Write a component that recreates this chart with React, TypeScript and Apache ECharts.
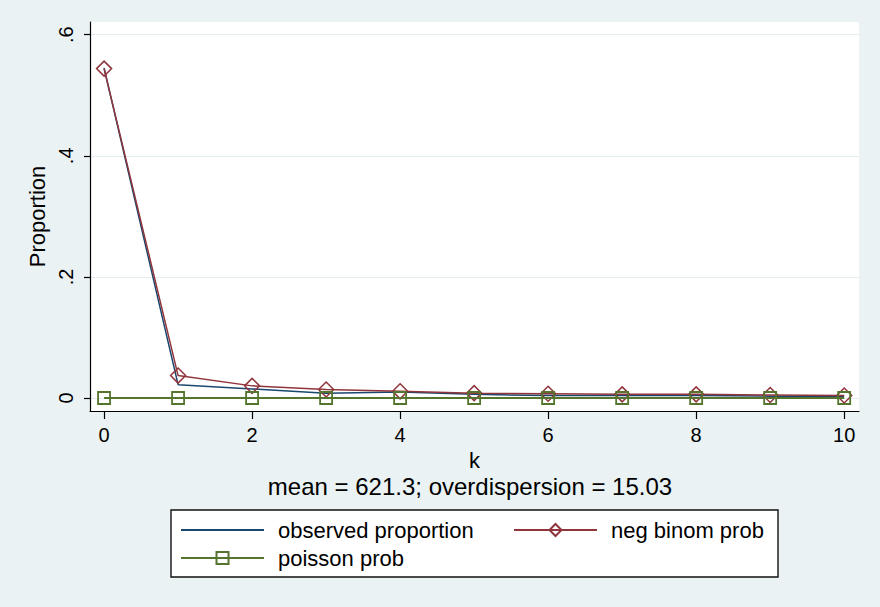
import React, { useEffect, useRef } from 'react';
import * as echarts from 'echarts';

// Counts k = 0..10 and the proportions for each fitted distribution
const kValues = [0, 1, 2, 3, 4, 5, 6, 7, 8, 9, 10];
const observedProportion = [0.545, 0.022, 0.015, 0.008, 0.01, 0.006, 0.004, 0.004, 0.004, 0.003, 0.003];
const negBinomProb = [0.544, 0.037, 0.02, 0.014, 0.011, 0.008, 0.007, 0.006, 0.006, 0.005, 0.004];
const poissonProb = [0, 0, 0, 0, 0, 0, 0, 0, 0, 0, 0];

const xTickValues = [0, 2, 4, 6, 8, 10];
const yTickValues = [0, 0.2, 0.4, 0.6];
const yTickLabels = ['0', '.2', '.4', '.6'];

const seriesNames = ['observed proportion', 'neg binom prob', 'poisson prob'];
const noteText = 'mean = 621.3; overdispersion = 15.03';

const NAVY = '#1a476f';
const MAROON = '#90353b';
const FOREST = '#55752f';
const FONT = "'Liberation Sans', Arial, Helvetica, sans-serif";

const pairs = (vals: number[]) => kValues.map((k, i) => [k, vals[i]]);

export default function App() {
  const ref = useRef<HTMLDivElement>(null);

  useEffect(() => {
    if (!ref.current) return;
    const chart = echarts.init(ref.current, undefined, { renderer: 'svg' });

    const legendText = { color: '#000', fontSize: 22, fontFamily: FONT, padding: [0, 0, 0, 9] };
    const legendBase = {
      orient: 'horizontal' as const,
      itemWidth: 83,
      itemHeight: 15,
      padding: 0,
      selectedMode: false,
      textStyle: legendText,
    };

    chart.setOption({
      animation: false,
      backgroundColor: '#eaf2f3',
      textStyle: { fontFamily: FONT },
      grid: {
        left: 90,
        right: 21,
        top: 22,
        bottom: 196,
        show: true,
        backgroundColor: '#ffffff',
        borderWidth: 0,
      },
      xAxis: {
        type: 'value',
        min: -0.19,
        max: 10.2,
        name: 'k',
        nameLocation: 'middle',
        nameGap: 23,
        nameTextStyle: { color: '#000', fontSize: 22, fontFamily: FONT },
        axisLine: { show: true, onZero: false, lineStyle: { color: '#000', width: 1.2 } },
        axisTick: { show: true, length: 8, customValues: xTickValues, lineStyle: { color: '#000', width: 1.2 } },
        axisLabel: {
          customValues: xTickValues,
          margin: 14,
          color: '#000',
          fontSize: 20,
          fontFamily: FONT,
        },
        splitLine: { show: false },
      },
      yAxis: {
        type: 'value',
        min: -0.0215,
        max: 0.621,
        name: 'Proportion',
        nameLocation: 'middle',
        nameGap: 40,
        nameRotate: 90,
        nameTextStyle: { color: '#000', fontSize: 22, fontFamily: FONT },
        axisLine: { show: true, onZero: false, lineStyle: { color: '#000', width: 1.2 } },
        axisTick: { show: true, length: 6, customValues: yTickValues, lineStyle: { color: '#000', width: 1.2 } },
        axisLabel: {
          customValues: yTickValues,
          rotate: 90,
          margin: 14,
          color: '#000',
          fontSize: 20,
          fontFamily: FONT,
          formatter: (v: number) => {
            const i = yTickValues.findIndex((t) => Math.abs(t - v) < 1e-9);
            return i >= 0 ? yTickLabels[i] : '';
          },
        },
        splitLine: { show: true, lineStyle: { color: '#e3ecee', width: 1 } },
      },
      legend: [
        {
          ...legendBase,
          // plain line key, no marker
          data: [{ name: seriesNames[0], itemStyle: { color: 'rgba(0,0,0,0)', borderWidth: 0, opacity: 0 } }],
          left: 180,
          top: 519,
        },
        { ...legendBase, data: [seriesNames[1]], left: 513, top: 519 },
        { ...legendBase, data: [seriesNames[2]], left: 180, top: 547 },
      ],
      graphic: [
        {
          type: 'rect',
          z: 1,
          shape: { x: 171, y: 510, width: 607, height: 67 },
          style: { fill: '#ffffff', stroke: '#111', lineWidth: 1.4 },
        },
        {
          type: 'text',
          z: 5,
          x: 470,
          y: 486,
          style: {
            text: noteText,
            fill: '#000',
            fontSize: 24,
            fontFamily: FONT,
            align: 'center',
            verticalAlign: 'middle',
          },
        },
      ],
      series: [
        {
          name: seriesNames[0],
          type: 'line',
          data: pairs(observedProportion),
          symbol: 'none',
          lineStyle: { color: NAVY, width: 1.5 },
          itemStyle: { color: NAVY },
          z: 2,
        },
        {
          name: seriesNames[1],
          type: 'line',
          data: pairs(negBinomProb),
          symbol: 'diamond',
          symbolSize: 15,
          lineStyle: { color: MAROON, width: 1.5 },
          itemStyle: { color: 'rgba(0,0,0,0)', borderColor: MAROON, borderWidth: 1.5 },
          z: 3,
        },
        {
          name: seriesNames[2],
          type: 'line',
          data: pairs(poissonProb),
          symbol: 'rect',
          symbolSize: 12,
          lineStyle: { color: FOREST, width: 1.8 },
          itemStyle: { color: 'rgba(0,0,0,0)', borderColor: FOREST, borderWidth: 1.8 },
          z: 4,
        },
      ],
    });

    return () => chart.dispose();
  }, []);

  return (
    <div
      ref={ref}
      style={{ position: 'absolute', left: 0, top: 0, width: 880, height: 607 }}
    />
  );
}
